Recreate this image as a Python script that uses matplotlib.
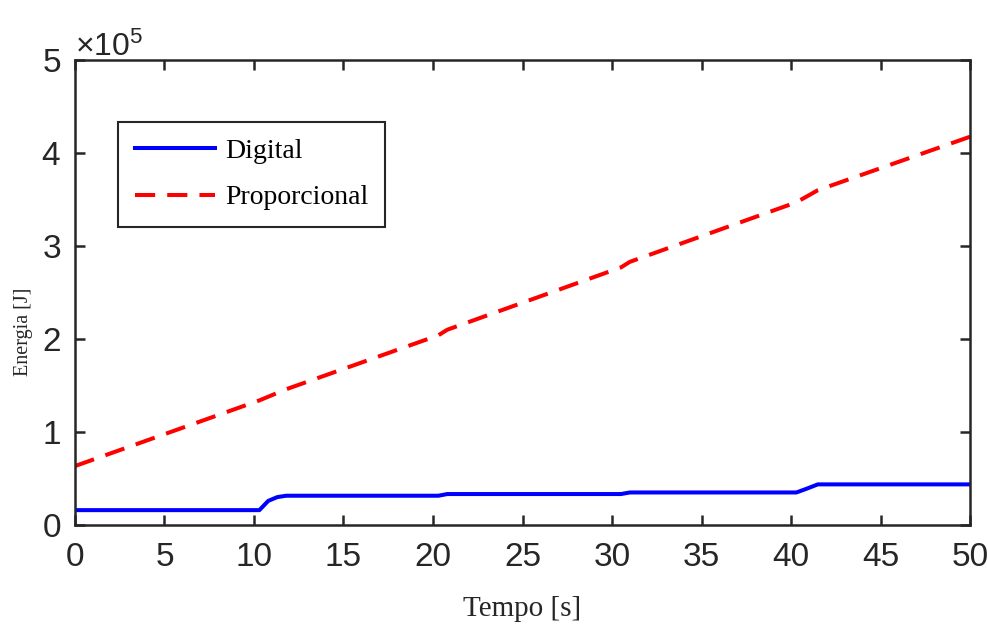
import matplotlib
matplotlib.use("Agg")
import matplotlib.pyplot as plt
from matplotlib.ticker import ScalarFormatter, MultipleLocator

# Energy consumption over time for two valve control strategies
time_digital = [0, 10.3, 10.8, 11.3, 11.8, 20.3, 20.8, 30.5, 31.0, 40.3, 40.8, 41.5, 50]
energy_digital = [16000, 16000, 26000, 30000, 31500, 31500, 33300, 33300, 35000, 35000, 38500, 43700, 43700]

time_prop = [0, 10.3, 11.8, 20.3, 20.8, 30.5, 31.0, 40.3, 41.5, 50]
energy_prop = [63400, 134000, 146000, 204000, 210000, 277000, 283000, 347000, 360000, 417500]

series_labels = ["Digital", "Proporcional"]
x_label = "Tempo [s]"
y_label = "Energia [J]"
x_ticks = list(range(0, 51, 5))

sans = ["Liberation Sans", "DejaVu Sans"]
serif = ["Liberation Serif", "DejaVu Serif"]
plt.rcParams["font.family"] = sans
plt.rcParams["mathtext.fontset"] = "custom"
plt.rcParams["mathtext.rm"] = "Liberation Sans"
plt.rcParams["mathtext.it"] = "Liberation Sans"

fig = plt.figure(figsize=(9.88, 6.35), dpi=100)
ax = fig.add_axes([0.0759, 0.1732, 0.9059, 0.7323])

ax.plot(time_digital, energy_digital, color="#0000ff", lw=2.9,
        label=series_labels[0], solid_joinstyle="round")
ax.plot(time_prop, energy_prop, color="#ff0000", lw=2.9,
        dashes=(5, 3), label=series_labels[1])

ax.set_xlim(0, 50)
ax.set_ylim(0, 5e5)
ax.set_xticks(x_ticks)
ax.yaxis.set_major_locator(MultipleLocator(1e5))

fmt = ScalarFormatter(useMathText=True)
fmt.set_powerlimits((0, 0))
ax.yaxis.set_major_formatter(fmt)
offset = ax.yaxis.get_offset_text()
offset.set_fontsize(23)
offset.set_color("#262626")

edge = "#262626"
for s in ax.spines.values():
    s.set_linewidth(1.8)
    s.set_color(edge)
ax.tick_params(axis="both", which="major", direction="in", length=7, width=1.8,
               top=True, right=True, labelsize=24, colors=edge)
ax.tick_params(axis="x", pad=12)
ax.tick_params(axis="y", pad=10)

ax.set_xlabel(x_label, fontfamily=serif, fontsize=21, color="#262626", labelpad=17)
ax.set_ylabel(y_label, fontfamily=serif, fontsize=14.5, color="#262626")
ax.yaxis.set_label_coords(-0.047, 0.415)

leg = ax.legend(loc="upper left", bbox_to_anchor=(0.048, 0.867), borderaxespad=0,
                prop={"family": serif, "size": 20}, fancybox=False,
                edgecolor="#262626", framealpha=1, handlelength=2.9,
                handletextpad=0.35, borderpad=0.6, labelspacing=0.75)
leg.get_frame().set_linewidth(1.5)

fig.savefig("out.png", dpi=100)
